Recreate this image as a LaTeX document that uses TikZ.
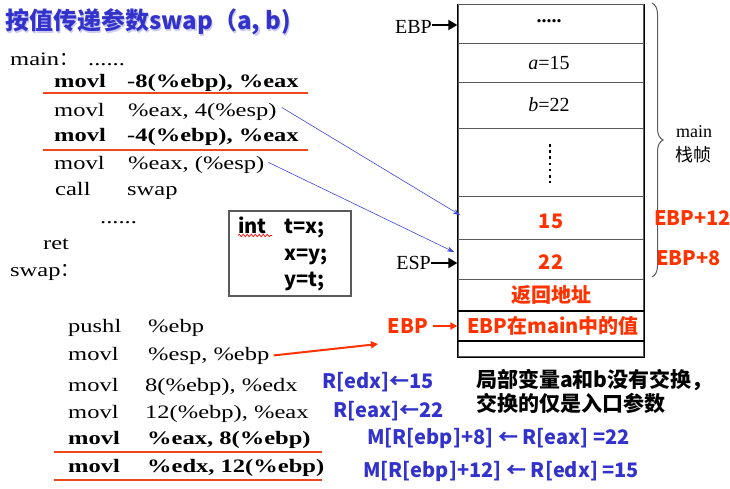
\documentclass[tikz,border=0pt]{standalone}
\usepackage{fontspec}
\setmainfont{Liberation Serif}
\newfontfamily\codefont[FakeStretch=1.29]{Liberation Serif}
\newfontfamily\cjk{Noto Sans CJK SC}
\usetikzlibrary{arrows.meta,decorations.pathreplacing,decorations.pathmorphing}
\definecolor{tblue}{RGB}{51,51,204}
\definecolor{tred}{RGB}{255,51,0}
\definecolor{uline}{RGB}{240,70,30}
\definecolor{lgray}{RGB}{90,90,90}
\definecolor{abl}{RGB}{60,70,220}
\tikzset{
  code/.style={font=\codefont\fontsize{19}{19}\selectfont, inner sep=0pt, anchor=base west},
  codeb/.style={font=\codefont\fontsize{19}{19}\selectfont\bfseries, inner sep=0pt, anchor=base west},
  redlab/.style={font=\cjk\bfseries\fontsize{20}{20}\selectfont, text=tred, inner sep=0pt},
  bluelab/.style={font=\cjk\bfseries\fontsize{20}{20}\selectfont, text=tblue, inner sep=0pt, anchor=west},
  blacklab/.style={font=\cjk\bfseries\fontsize{21}{21}\selectfont, text=black, inner sep=0pt, anchor=west},
  cell/.style={draw=lgray, line width=1.3pt, minimum width=186pt, inner sep=0pt, anchor=north},
  stacklab/.style={font=\fontsize{20}{20}\selectfont, inner sep=0pt},
  uln/.style={draw=uline, line width=2.6pt},
  bluearr/.style={draw=abl, line width=0.6pt, -{Stealth[length=7pt,width=5pt]}},
  blkarr/.style={draw=black, line width=1.8pt, -{Triangle[length=9pt,width=10pt]}},
  redarr/.style={draw=tred, line width=2pt, -{Triangle[length=7pt,width=7pt]}},
}
\begin{document}
\begin{tikzpicture}[x=1pt,y=-1pt]
\path[use as bounding box, fill=white] (0,0) rectangle (730,488);

% title
\node[font=\cjk\bfseries\fontsize{24}{24}\selectfont, text=tblue!25!white, inner sep=0pt, anchor=west] (titleshadow) at (6.5,23.5) {按值传递参数swap（a, b)};
\node[font=\cjk\bfseries\fontsize{24}{24}\selectfont, text=tblue, inner sep=0pt, anchor=west] (title) at (5,22) {按值传递参数swap（a, b)};

% main code
\node[code] (mainlab) at (10,65) {main{\cjk ：}};
\node[code] (maindots) at (88,65) {......};
\node[codeb] (m1) at (54,87) {movl};
\node[codeb] (o1) at (127,87) {-8(\%ebp), \%eax};
\node[code] (m2) at (54,116) {movl};
\node[code] (o2) at (128,116) {\%eax, 4(\%esp)};
\node[codeb] (m3) at (54,141) {movl};
\node[codeb] (o3) at (127,141) {-4(\%ebp), \%eax};
\node[code] (m4) at (54,169) {movl};
\node[code] (o4) at (128,169) {\%eax, (\%esp)};
\node[code] (m5) at (55,195) {call};
\node[code] (o5) at (127,195) {swap};
\node[code] (dots2) at (100,223) {......};
\node[code] (m6) at (43,249) {ret};
\node[code] (swaplab) at (10,276) {swap{\cjk ：}};
\draw[uln] (43,93) -- (308,93);
\draw[uln] (43,150) -- (308,150);

% swap code
\node[code] (s1) at (68,332) {pushl};
\node[code] (so1) at (148,332) {\%ebp};
\node[code] (s2) at (68,360) {movl};
\node[code] (so2) at (148,360) {\%esp, \%ebp};
\node[code] (s3) at (68,391) {movl};
\node[code] (so3) at (145,391) {8(\%ebp), \%edx};
\node[code] (s4) at (68,418) {movl};
\node[code] (so4) at (145,418) {12(\%ebp), \%eax};
\node[codeb] (s5) at (68,444) {movl};
\node[codeb] (so5) at (147,444) {\%eax, 8(\%ebp)};
\node[codeb] (s6) at (68,472) {movl};
\node[codeb] (so6) at (147,472) {\%edx, 12(\%ebp)};
\draw[uln] (54,452) -- (322,452);
\draw[uln] (54,480) -- (322,480);

% C code box
\node[draw=lgray, line width=1.3pt, minimum width=122pt, minimum height=85pt, inner sep=0pt] (cbox) at (290,253.5) {};
\node[font=\cjk\bfseries\fontsize{20}{20}\selectfont, inner sep=0pt, anchor=base west] (cint) at (238,233) {int};
\node[font=\cjk\bfseries\fontsize{20}{20}\selectfont, inner sep=0pt, anchor=base west] (c1) at (284,233) {t=x;};
\node[font=\cjk\bfseries\fontsize{20}{20}\selectfont, inner sep=0pt, anchor=base west] (c2) at (284,260) {x=y;};
\node[font=\cjk\bfseries\fontsize{20}{20}\selectfont, inner sep=0pt, anchor=base west] (c3) at (284,286) {y=t;};
\draw[red, line width=0.7pt, decorate, decoration={snake, amplitude=1.2pt, segment length=4pt}] (cint.south west) ++(0,2) -- ++(34,0);

% stack
\node[cell, minimum height=39pt] (r1) at (551,4) {};
\node[cell, minimum height=39pt] (r2) at (551,43) {};
\node[cell, minimum height=46pt] (r3) at (551,82) {};
\node[cell, minimum height=68pt] (r4) at (551,128) {};
\node[cell, minimum height=43pt] (r5) at (551,196) {};
\node[cell, minimum height=40pt] (r6) at (551,239) {};
\node[cell, minimum height=32pt] (r7) at (551,279) {};
\node[cell, minimum height=30pt] (r8) at (551,311) {};
\node[cell, minimum height=15pt] (r9) at (551,341) {};
\draw[black, line width=1.5pt] (r1.north west) -- (r9.south west);
\draw[black, line width=1.5pt] (r1.north east) -- (r9.south east);
\draw[black, line width=2.2pt] (r8.north west) -- (r8.north east);
\draw[black, line width=2.2pt] (r9.north west) -- (r9.north east);
\draw[black, line width=1.5pt] (r9.south west) -- (r9.south east);

\node[stacklab, font=\bfseries\fontsize{20}{20}\selectfont] (t1) at (549,21) {.....};
\node[stacklab] (t2) at (549,63) {\textit{a}=15};
\node[stacklab] (t3) at (549,105) {\textit{b}=22};
\draw[black, line width=2.6pt, dash pattern=on 2.6pt off 3.6pt] (550,144) -- (550,183);
\node[redlab] (t5) at (551,221) {15};
\node[redlab] (t6) at (551,262) {22};
\node[redlab] (t7) at (551,295) {返回地址};
\node[redlab] (t8) at (553,326) {EBP在main中的值};

% pointers
\node[stacklab, anchor=base east] (ebp) at (432,33) {EBP};
\draw[blkarr] (ebp.east |- 0,25) -- (r1.west |- 0,25);
\node[stacklab, anchor=base east] (esp) at (431,269) {ESP};
\draw[blkarr] (431,263) -- (r6.west |- 0,263);
\node[redlab, anchor=east] (ebp2) at (428,326) {EBP};
\draw[redarr] (433,326) -- (r8.west |- 0,326);

% brace and labels
\draw[lgray, line width=1pt, decorate, decoration={brace, amplitude=11pt}] (652,3) -- (652,277);
\node[font=\fontsize{18}{18}\selectfont, inner sep=0pt, anchor=base west] (mainf) at (676,137) {main};
\node[font=\cjk\fontsize{18}{18}\selectfont, inner sep=0pt, anchor=west] (zhen) at (675,155) {栈帧};
\node[redlab, anchor=west] (e12) at (654,218) {EBP+12};
\node[redlab, anchor=west] (e8) at (656,258) {EBP+8};

% blue arrows
\coordinate (a1) at (460,215);
\coordinate (a2) at (454,252);
\draw[bluearr] ([xshift=5pt,yshift=4pt]o2.east) -- (a1);
\draw[bluearr] ([xshift=4pt,yshift=2pt]o4.east) -- (a2);

% red arrow
\coordinate (a3) at (378,344);
\draw[redarr] ([xshift=4pt]so2.east) -- (a3);

% annotations
\node[bluelab] (n1) at (322,382) {R[edx]←15};
\node[bluelab] (n2) at (333,411) {R[eax]←22};
\node[bluelab] (n3) at (367,438) {M[R[ebp]+8] ← R[eax] =22};
\node[bluelab] (n4) at (363,471) {M[R[ebp]+12] ← R[edx] =15};
\node[blacklab] (k1) at (476,380) {局部变量a和b没有交换，};
\node[blacklab] (k2) at (476,403) {交换的仅是入口参数};
\end{tikzpicture}
\end{document}
